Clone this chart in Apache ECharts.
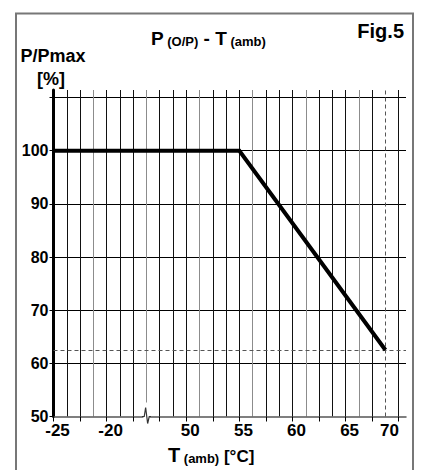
<!DOCTYPE html>
<html><head><meta charset="utf-8">
<script src="https://cdn.jsdelivr.net/npm/echarts@6/dist/echarts.min.js"></script>
<style>html,body{margin:0;padding:0;background:#fff}#c{width:428px;height:470px}</style>
</head><body><div id="c"></div>
<script>
// ---- data ----
const tempLabels = ['-25', '-20', '50', '55', '60', '65', '70'];
const tempValues = [-25, -20, 50, 55, 60, 65, 70];
const tempGridPos = [0, 4, 10, 14, 18, 22, 25];      // grid-column position of each temperature label (broken axis)
const xTickPos = [0, 2, 4, 6, 8, 10, 12, 14, 16, 18, 20, 22, 24, 26];
const axisBreakPos = 7;                               // position of the axis break (between -20 and 50)
const yTicks = [50, 60, 70, 80, 90, 100, 110];
const yLabels = [50, 60, 70, 80, 90, 100];
const curveTemp = [-25, 55, 70];
const curvePower = [100, 100, 62.5];

// broken-axis scale: temperature -> grid-column position
function tempToPos(t) {
  for (let i = 0; i < tempValues.length - 1; i++) {
    if (t >= tempValues[i] && t <= tempValues[i + 1]) {
      const f = (t - tempValues[i]) / (tempValues[i + 1] - tempValues[i]);
      return tempGridPos[i] + f * (tempGridPos[i + 1] - tempGridPos[i]);
    }
  }
  return t < tempValues[0] ? tempGridPos[0] : tempGridPos[tempGridPos.length - 1];
}

const FONT = '"Liberation Sans", Arial, Helvetica, sans-serif';
const X_MAX = 26.55, Y_MIN = 50, Y_MAX = 111.42;

// vertical grid line colours: every 4th grey, the 70 line replaced by a dashed marker
const vColors = [];
for (let i = 0; i < 28; i++) {
  vColors.push(i === 25 ? 'rgba(0,0,0,0)' : (i % 4 === 3 ? '#8c8c8c' : '#111'));
}

const chart = echarts.init(document.getElementById('c'), null, {renderer: 'svg'});
const richBig = (s) => ({fontSize: s, fontWeight: 'bold', fontFamily: FONT, color: '#000', lineHeight: s, verticalAlign: 'bottom'});

chart.setOption({
  animation: false,
  backgroundColor: '#fff',
  textStyle: {fontFamily: FONT},
  title: [
    {text: '{b|P}{s| (O/P)}{b| - T}{s| (amb)}', left: 151, top: 28.5, padding: 0,
     textStyle: {rich: {b: richBig(19), s: richBig(13)}}},
    {text: 'Fig.5', right: 24, top: 20.5, padding: 0,
     textStyle: {fontSize: 20, fontWeight: 'bold', color: '#000', fontFamily: FONT, lineHeight: 20}},
    {text: 'P/Pmax', left: 20.5, top: 46.5, padding: 0,
     textStyle: {fontSize: 18, fontWeight: 'bold', color: '#000', fontFamily: FONT, lineHeight: 18}},
    {text: '[%]', left: 37, top: 69.5, padding: 0,
     textStyle: {fontSize: 18, fontWeight: 'bold', color: '#000', fontFamily: FONT, lineHeight: 18}},
    {text: '{b|T}{s| (amb)}{m| [°C]}', left: 168, top: 444.8, padding: 0,
     textStyle: {rich: {b: richBig(20), s: richBig(13), m: richBig(17)}}}
  ],
  grid: {left: 53.5, right: 22, top: 90, bottom: 53.5, containLabel: false, outerBoundsMode: 'none'},
  xAxis: [
    {type: 'value', min: 0, max: X_MAX, interval: 1, position: 'bottom',
     axisLine: {show: true, lineStyle: {color: '#555', width: 1.5}},
     axisTick: {show: false}, axisLabel: {show: false},
     splitLine: {show: true, showMinLine: true, showMaxLine: false, lineStyle: {color: vColors, width: 1}}},
    {type: 'value', min: 0, max: X_MAX, position: 'bottom',
     axisLine: {show: false},
     axisTick: {show: true, customValues: xTickPos, length: 5, lineStyle: {color: '#000', width: 1}},
     axisLabel: {show: true, customValues: tempGridPos, margin: 5, padding: [0, 0, 0, 8],
       fontSize: 17, fontWeight: 'bold', color: '#000', fontFamily: FONT,
       formatter: (v) => { const i = tempGridPos.indexOf(v); return i >= 0 ? tempLabels[i] : ''; }},
     splitLine: {show: false}}
  ],
  yAxis: [
    {type: 'value', min: Y_MIN, max: Y_MAX, interval: 10,
     axisLine: {show: true, lineStyle: {color: '#000', width: 3}},
     axisTick: {show: false}, axisLabel: {show: false},
     splitLine: {show: true, showMinLine: false, showMaxLine: false, lineStyle: {color: '#000', width: 1}}},
    {type: 'value', min: Y_MIN, max: Y_MAX, position: 'left',
     axisLine: {show: false},
     axisTick: {show: true, customValues: yTicks, length: 4, lineStyle: {color: '#000', width: 1}},
     axisLabel: {show: true, customValues: yLabels, margin: 5,
       fontSize: 16, fontWeight: 'bold', color: '#000', fontFamily: FONT},
     splitLine: {show: false}}
  ],
  series: [{
    type: 'line', xAxisIndex: 0, yAxisIndex: 0, z: 5,
    data: curveTemp.map((t, i) => [tempToPos(t), curvePower[i]]),
    symbol: 'none',
    lineStyle: {color: '#000', width: 4, join: 'miter', cap: 'butt'},
    markLine: {
      silent: true, symbol: 'none', label: {show: false},
      lineStyle: {color: '#555', type: [4, 3], width: 1},
      data: [{yAxis: curvePower[curvePower.length - 1]},
             {xAxis: tempToPos(curveTemp[curveTemp.length - 1])}]
    }
  }]
});

// frame and axis-break zigzag, positioned through the axis scales
const bx = chart.convertToPixel({xAxisIndex: 0}, axisBreakPos);
const by = chart.convertToPixel({yAxisIndex: 0}, Y_MIN);
chart.setOption({
  graphic: [
    {type: 'rect', id: 'frame', z: 100, shape: {x: 16, y: 13.5, width: 397, height: 480},
     style: {fill: 'none', stroke: '#777', lineWidth: 2}},
    {type: 'rect', id: 'gap', z: 100, shape: {x: bx - 3, y: by - 14, width: 6, height: 16},
     style: {fill: '#fff'}},
    {type: 'polyline', id: 'zig', z: 101,
     shape: {points: [[bx - 4.5, by], [bx - 2.2, by], [bx - 0.8, by - 9], [bx + 1.2, by + 7], [bx + 2.8, by], [bx + 4.5, by]]},
     style: {stroke: '#333', lineWidth: 1.2, fill: 'none'}}
  ]
});
</script></body></html>
